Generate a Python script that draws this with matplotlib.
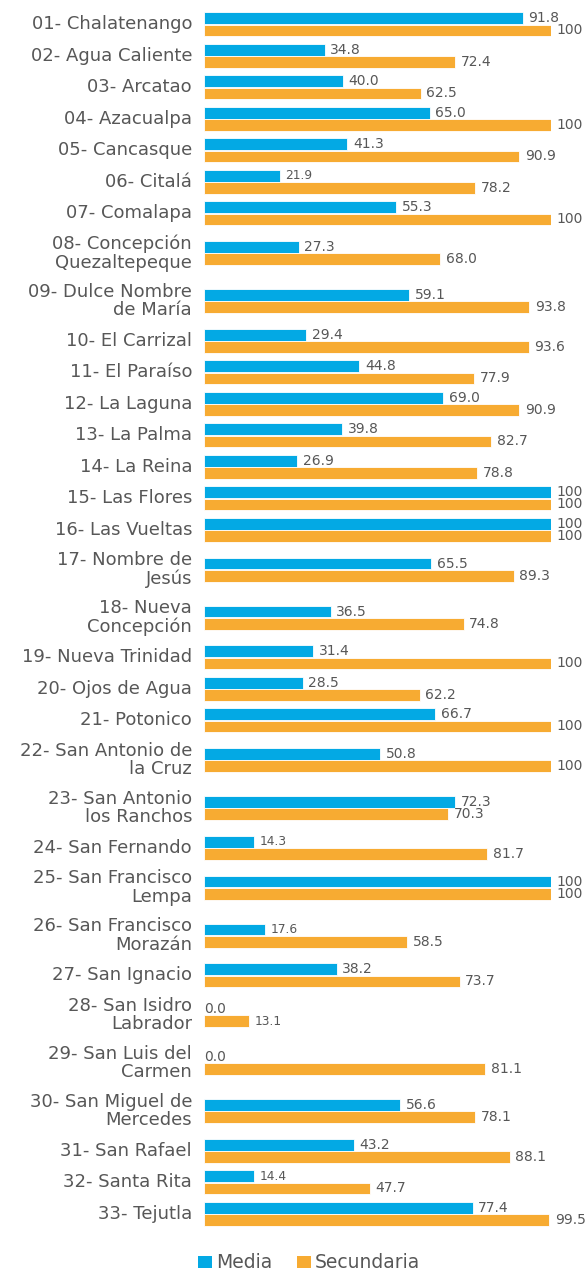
import matplotlib
matplotlib.use("Agg")
import matplotlib.pyplot as plt
from matplotlib.patches import Patch

plt.rcParams['font.family'] = ['DejaVu Sans']

municipios = [
    "01- Chalatenango", "02- Agua Caliente", "03- Arcatao", "04- Azacualpa",
    "05- Cancasque", "06- Citalá", "07- Comalapa", "08- Concepción\nQuezaltepeque",
    "09- Dulce Nombre\nde María", "10- El Carrizal", "11- El Paraíso", "12- La Laguna",
    "13- La Palma", "14- La Reina", "15- Las Flores", "16- Las Vueltas",
    "17- Nombre de\nJesús", "18- Nueva\nConcepción", "19- Nueva Trinidad",
    "20- Ojos de Agua", "21- Potonico", "22- San Antonio de\nla Cruz",
    "23- San Antonio\nlos Ranchos", "24- San Fernando", "25- San Francisco\nLempa",
    "26- San Francisco\nMorazán", "27- San Ignacio", "28- San Isidro\nLabrador",
    "29- San Luis del\nCarmen", "30- San Miguel de\nMercedes", "31- San Rafael",
    "32- Santa Rita", "33- Tejutla",
]
media = [91.8, 34.8, 40.0, 65.0, 41.3, 21.9, 55.3, 27.3, 59.1, 29.4, 44.8, 69.0,
         39.8, 26.9, 100, 100, 65.5, 36.5, 31.4, 28.5, 66.7, 50.8, 72.3, 14.3,
         100, 17.6, 38.2, 0.0, 0.0, 56.6, 43.2, 14.4, 77.4]
secundaria = [100, 72.4, 62.5, 100, 90.9, 78.2, 100, 68.0, 93.8, 93.6, 77.9, 90.9,
              82.7, 78.8, 100, 100, 89.3, 74.8, 100, 62.2, 100, 100, 70.3, 81.7,
              100, 58.5, 73.7, 13.1, 81.1, 78.1, 88.1, 47.7, 99.5]
series_names = ["Media", "Secundaria"]

BLUE = "#03A9E4"
ORANGE = "#F7AB32"
TXT = "#575757"

W, H = 586, 1270
fig = plt.figure(figsize=(W / 100, H / 100), dpi=100)
ax_left, ax_right = 204, 551
ax = fig.add_axes([ax_left / W, 0, (ax_right - ax_left) / W, 1])
ax.set_xlim(0, 100)
ax.set_ylim(H, 0)  # y in pixel units
ax.axis("off")

# row layout: rows with two-line labels are taller
H1, H2 = 31.5, 48.0
top = 8.6
centers = []
for lab in municipios:
    h = H2 if "\n" in lab else H1
    centers.append(top + h / 2)
    top += h

off = 6.1
bh = 11.6
yb = [c - off for c in centers]
yo = [c + off for c in centers]
ax.barh(yb, media, height=bh, color=BLUE, edgecolor="white", linewidth=0.6)
ax.barh(yo, secundaria, height=bh, color=ORANGE, edgecolor="white", linewidth=0.6)

def fmt(v):
    return "100" if v == 100 else f"{v:.1f}"

for ys, vals in ((yb, media), (yo, secundaria)):
    for y, v in zip(ys, vals):
        small = 0 < v < 25
        dx = 0 if v == 0 else 4
        ax.annotate(fmt(v), xy=(v, y), xytext=(dx, 0), textcoords="offset points",
                    ha="left", va="center", color=TXT,
                    fontsize=8.8 if small else 10.0, annotation_clip=False)

for c, lab in zip(centers, municipios):
    ax.annotate(lab, xy=(0, c), xytext=(-8.6, 0), textcoords="offset points",
                ha="right", va="center", color=TXT, fontsize=13.0,
                linespacing=1.05, annotation_clip=False)

handles = [Patch(facecolor=BLUE, edgecolor="none"), Patch(facecolor=ORANGE, edgecolor="none")]
leg = fig.legend(handles, series_names, loc="center", bbox_to_anchor=(0.527, 1 - 1263 / H),
                 ncol=2, frameon=False, fontsize=13.5, handlelength=0.75, handleheight=0.65,
                 handletextpad=0.2, columnspacing=1.3, borderpad=0, borderaxespad=0)
for t in leg.get_texts():
    t.set_color(TXT)

fig.savefig("out.png", dpi=100)
